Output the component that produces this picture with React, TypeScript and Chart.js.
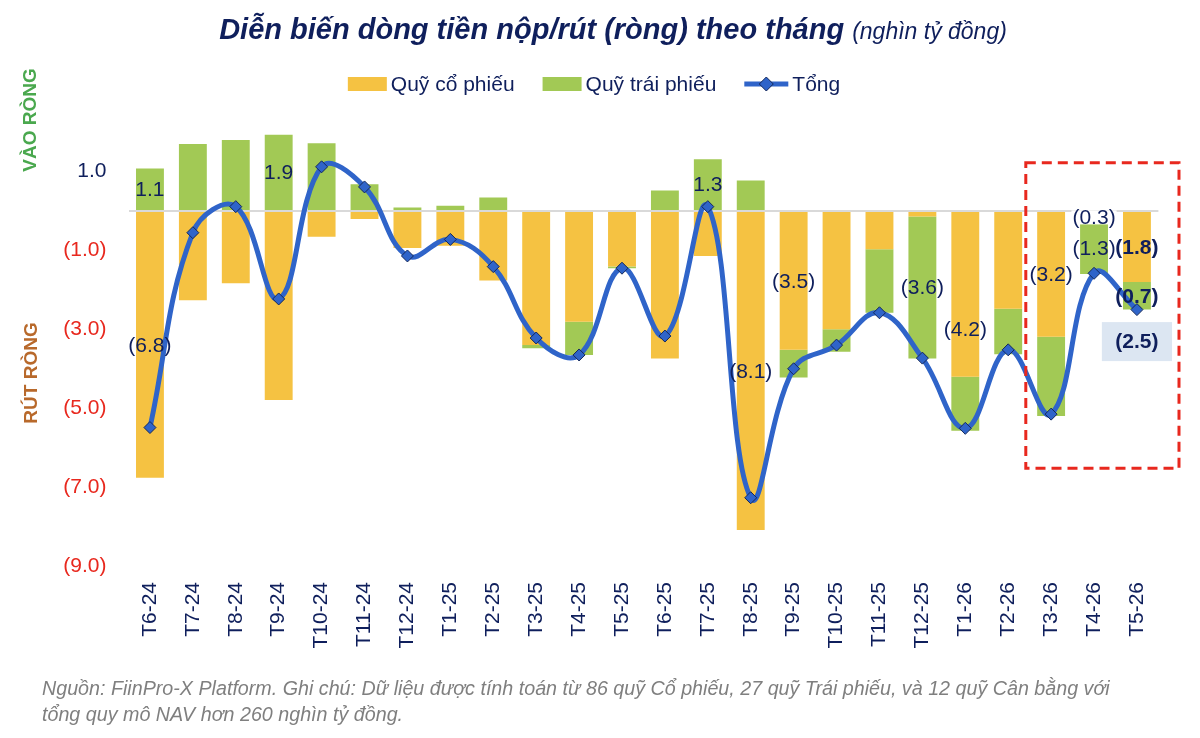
import { useEffect, useRef } from 'react';
import { Chart, registerables } from 'chart.js';

Chart.register(...registerables);

// Monthly net flows, thousand billion VND
const months = ['T6-24', 'T7-24', 'T8-24', 'T9-24', 'T10-24', 'T11-24', 'T12-24', 'T1-25', 'T2-25', 'T3-25', 'T4-25', 'T5-25', 'T6-25', 'T7-25', 'T8-25', 'T9-25', 'T10-25', 'T11-25', 'T12-25', 'T1-26', 'T2-26', 'T3-26', 'T4-26', 'T5-26'];
const stockFlows = [-6.76, -2.26, -1.83, -4.79, -0.65, -0.2, -0.94, -0.88, -1.76, -3.4, -2.81, -1.41, -3.74, -1.14, -8.09, -3.52, -3.0, -0.97, -0.14, -4.2, -2.48, -3.19, -0.3, -1.8];
const bondFlows = [1.08, 1.7, 1.8, 1.93, 1.72, 0.68, 0.09, 0.13, 0.34, -0.08, -0.84, -0.04, 0.52, 1.31, 0.77, -0.7, -0.57, -1.61, -3.6, -1.37, -1.15, -2.01, -1.3, -0.7];
const totalFlows = [-5.49, -0.55, 0.11, -2.23, 1.12, 0.61, -1.14, -0.72, -1.41, -3.22, -3.65, -1.45, -3.17, 0.11, -7.27, -4.0, -3.4, -2.58, -3.73, -5.51, -3.52, -5.15, -1.58, -2.5];
const yTickValues = [-9, -7, -5, -3, -1, 0, 1];

const seriesNames = ['Quỹ cổ phiếu', 'Quỹ trái phiếu', 'Tổng'];
const titleMain = 'Diễn biến dòng tiền nộp/rút (ròng) theo tháng';
const titleUnit = '(nghìn tỷ đồng)';
const inflowCaption = 'VÀO RÒNG';
const outflowCaption = 'RÚT RÒNG';
const noteLines = [
  'Nguồn: FiinPro-X Platform. Ghi chú: Dữ liệu được tính toán từ 86 quỹ Cổ phiếu, 27 quỹ Trái phiếu, và 12 quỹ Cân bằng với',
  'tổng quy mô NAV hơn 260 nghìn tỷ đồng.',
];

// Which values get a printed label (series: 0 stock, 1 bond, 2 total)
const valueLabels = [
  { series: 0, index: 0 },
  { series: 0, index: 14 },
  { series: 0, index: 15 },
  { series: 0, index: 19, dy: 35 },
  { series: 0, index: 21 },
  { series: 0, index: 22, fill: '#ffffff' },
  { series: 0, index: 23, bold: true },
  { series: 1, index: 0 },
  { series: 1, index: 3 },
  { series: 1, index: 13 },
  { series: 1, index: 18 },
  { series: 1, index: 22 },
  { series: 1, index: 23, bold: true },
  { series: 2, index: 23, bold: true, fill: '#dce6f2' },
];

const NAVY = '#0f1f5c';
const RED = '#e8281e';
const YELLOW = '#f5c242';
const GREEN = '#a2c955';
const BLUE = '#2f64c9';
const FONT = '"Liberation Sans", Arial, sans-serif';

const fmt = (v: number) => (v < 0 ? `(${Math.abs(v).toFixed(1)})` : v.toFixed(1));

const decor = {
  id: 'decor',
  afterDatasetsDraw(chart: any) {
    const ctx = chart.ctx;
    const xs = chart.scales.x;
    const ys = chart.scales.y;
    const step = xs.getPixelForValue(1) - xs.getPixelForValue(0);

    // highlight frame around the latest three months
    ctx.save();
    ctx.strokeStyle = RED;
    ctx.lineWidth = 3;
    ctx.setLineDash([10, 6]);
    const fx0 = xs.getPixelForValue(21) - 0.59 * step;
    const fx1 = xs.getPixelForValue(23) + 0.98 * step;
    const fy0 = ys.getPixelForValue(1.22);
    const fy1 = ys.getPixelForValue(-6.52);
    ctx.strokeRect(fx0, fy0, fx1 - fx0, fy1 - fy0);
    ctx.restore();

    ctx.save();
    ctx.textAlign = 'center';
    ctx.textBaseline = 'middle';
    for (const lab of valueLabels as any[]) {
      const meta = chart.getDatasetMeta(lab.series);
      const el = meta.data[lab.index];
      const value = chart.data.datasets[lab.series].data[lab.index];
      const text = fmt(value);
      let cx: number;
      let cy: number;
      if (meta.type === 'bar') {
        const c = el.getCenterPoint();
        cx = c.x;
        cy = c.y;
      } else {
        cx = el.x;
        cy = el.y + 32;
      }
      cy += lab.dy || 0;
      ctx.font = `${lab.bold ? 'bold ' : ''}21px ${FONT}`;
      const w = ctx.measureText(text).width;
      if (lab.fill) {
        ctx.fillStyle = lab.fill;
        if (meta.type === 'bar') ctx.fillRect(cx - w / 2 - 1, cy - 7, w + 2, 14);
        else ctx.fillRect(cx - w / 2 - 13.5, cy - 19.5, w + 27, 39);
      }
      ctx.fillStyle = NAVY;
      ctx.fillText(text, cx, cy + 1);
    }
    ctx.restore();
  },
  afterDraw(chart: any) {
    const ctx = chart.ctx;
    ctx.save();

    // title
    ctx.textBaseline = 'middle';
    ctx.textAlign = 'left';
    ctx.font = `italic bold 29px ${FONT}`;
    const w1 = ctx.measureText(titleMain).width;
    ctx.font = `italic 23px ${FONT}`;
    const w2 = ctx.measureText(titleUnit).width;
    const gap = 8;
    const tx = 613 - (w1 + gap + w2) / 2;
    ctx.fillStyle = NAVY;
    ctx.font = `italic bold 29px ${FONT}`;
    ctx.fillText(titleMain, tx, 31);
    ctx.font = `italic 23px ${FONT}`;
    ctx.fillText(titleUnit, tx + w1 + gap, 33);

    // legend
    ctx.font = `21px ${FONT}`;
    const boxW = 39;
    const itemGap = 28;
    const textGap = 4;
    const widths = seriesNames.map((n) => ctx.measureText(n).width);
    const swatchW = [boxW, boxW, 44];
    let total = 0;
    widths.forEach((w, i) => (total += swatchW[i] + textGap + w + (i < 2 ? itemGap : 0)));
    let lx = 594 - total / 2;
    const ly = 84;
    seriesNames.forEach((name, i) => {
      if (i < 2) {
        ctx.fillStyle = i === 0 ? YELLOW : GREEN;
        ctx.fillRect(lx, ly - 7, boxW, 14);
      } else {
        ctx.strokeStyle = BLUE;
        ctx.lineWidth = 5;
        ctx.beginPath();
        ctx.moveTo(lx, ly);
        ctx.lineTo(lx + 44, ly);
        ctx.stroke();
        const dx = lx + 22;
        ctx.beginPath();
        ctx.moveTo(dx, ly - 7);
        ctx.lineTo(dx + 7, ly);
        ctx.lineTo(dx, ly + 7);
        ctx.lineTo(dx - 7, ly);
        ctx.closePath();
        ctx.fillStyle = BLUE;
        ctx.fill();
        ctx.strokeStyle = '#14285a';
        ctx.lineWidth = 1;
        ctx.stroke();
      }
      lx += swatchW[i] + textGap;
      ctx.fillStyle = NAVY;
      ctx.fillText(name, lx, ly + 1);
      lx += widths[i] + itemGap;
    });

    // side captions
    ctx.font = `bold 19px ${FONT}`;
    ctx.textAlign = 'center';
    ctx.save();
    ctx.translate(30, 120);
    ctx.rotate(-Math.PI / 2);
    ctx.fillStyle = '#4aa84e';
    ctx.fillText(inflowCaption, 0, 1);
    ctx.restore();
    ctx.save();
    ctx.translate(31, 373);
    ctx.rotate(-Math.PI / 2);
    ctx.fillStyle = '#b8692b';
    ctx.fillText(outflowCaption, 0, 1);
    ctx.restore();

    // footnote
    ctx.textAlign = 'left';
    ctx.font = `italic 19.7px ${FONT}`;
    ctx.fillStyle = '#7f7f7f';
    ctx.fillText(noteLines[0], 42, 690);
    ctx.fillText(noteLines[1], 42, 716);

    ctx.restore();
  },
};

export default function App() {
  const canvasRef = useRef<HTMLCanvasElement | null>(null);

  useEffect(() => {
    document.body.style.margin = '0';
    const canvas = canvasRef.current;
    if (!canvas) return;
    const chart = new Chart(canvas, {
      type: 'bar',
      data: {
        labels: months,
        datasets: [
          {
            type: 'bar',
            label: seriesNames[0],
            data: stockFlows,
            backgroundColor: YELLOW,
            stack: 'funds',
            order: 1,
            barPercentage: 0.65,
            categoryPercentage: 1,
          },
          {
            type: 'bar',
            label: seriesNames[1],
            data: bondFlows,
            backgroundColor: GREEN,
            stack: 'funds',
            order: 2,
            barPercentage: 0.65,
            categoryPercentage: 1,
          },
          {
            type: 'line',
            label: seriesNames[2],
            data: totalFlows,
            borderColor: BLUE,
            borderWidth: 5,
            tension: 0.4,
            pointStyle: 'rectRot',
            pointRadius: 6,
            pointBackgroundColor: BLUE,
            pointBorderColor: '#14285a',
            pointBorderWidth: 1,
            stack: 'total',
            order: 0,
          },
        ] as any,
      },
      options: {
        responsive: false,
        animation: false,
        devicePixelRatio: 1,
        layout: { padding: { top: 108, right: 41.6, left: 0, bottom: 0 } },
        plugins: {
          legend: { display: false },
          tooltip: { enabled: false },
          title: { display: false },
        },
        scales: {
          x: {
            stacked: true,
            grid: { display: false, drawTicks: false },
            border: { display: false },
            ticks: {
              autoSkip: false,
              minRotation: 90,
              maxRotation: 90,
              padding: 16,
              color: NAVY,
              font: { family: FONT, size: 21 },
            },
            afterFit: (s: any) => {
              s.height = 172;
            },
          },
          y: {
            stacked: true,
            min: -9,
            max: 2.611,
            afterBuildTicks: (s: any) => {
              s.ticks = yTickValues.map((value) => ({ value }));
            },
            afterFit: (s: any) => {
              s.width = 128.5;
            },
            grid: {
              drawTicks: false,
              lineWidth: 2,
              color: (c: any) => (c.tick && c.tick.value === 0 ? '#d9d9d9' : 'rgba(0,0,0,0)'),
            },
            border: { display: false },
            ticks: {
              padding: 22,
              color: (c: any) => (c.tick && c.tick.value < 0 ? RED : NAVY),
              font: { family: FONT, size: 21 },
              callback: (v: any) => (v === 0 ? '' : fmt(Number(v))),
            },
          },
        },
      } as any,
      plugins: [decor],
    });
    return () => chart.destroy();
  }, []);

  return <canvas ref={canvasRef} width={1200} height={738} style={{ display: 'block' }} />;
}
